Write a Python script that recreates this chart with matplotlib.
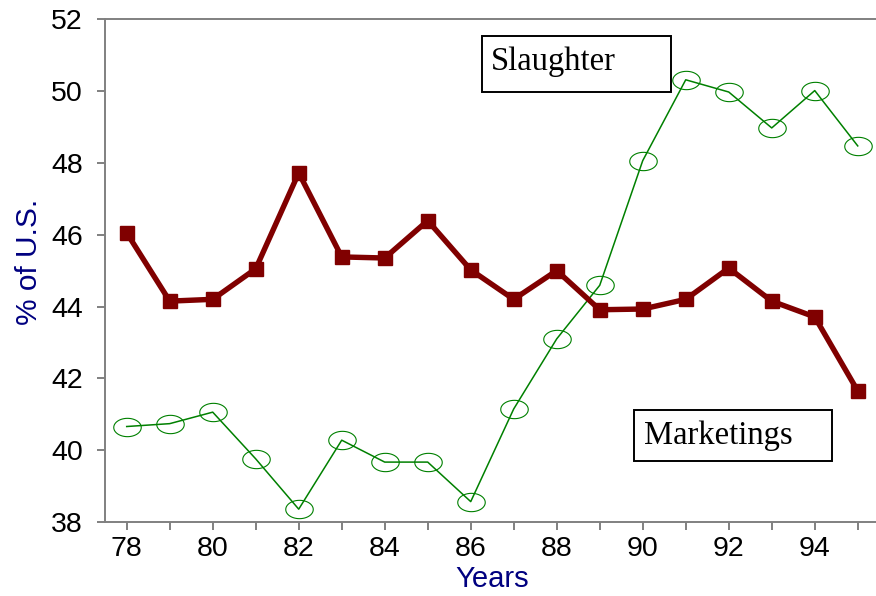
import numpy as np
import matplotlib
matplotlib.use("Agg")
import matplotlib.pyplot as plt
from matplotlib.path import Path
from matplotlib.patches import Rectangle
from matplotlib.ticker import MultipleLocator, FixedLocator

years = [78, 79, 80, 81, 82, 83, 84, 85, 86, 87, 88, 89, 90, 91, 92, 93, 94, 95]
marketings = [46.05, 44.15, 44.2, 45.05, 47.72, 45.38, 45.35, 46.39, 45.02, 44.2,
              45.0, 43.91, 43.93, 44.2, 45.07, 44.15, 43.71, 41.65]
slaughter = [40.66, 40.74, 41.06, 39.76, 38.36, 40.28, 39.67, 39.67, 38.57, 41.15,
             43.1, 44.59, 48.06, 50.31, 49.97, 48.97, 50.01, 48.47]
tick_labels = ["78", "80", "82", "84", "86", "88", "90", "92", "94"]

fig = plt.figure(figsize=(8.76, 5.96), dpi=100)
ax = fig.add_axes([0.1201, 0.124, 0.8836, 0.844])

# elliptical hollow marker
t = np.linspace(0, 2 * np.pi, 60)
ell = Path(np.column_stack([1.5 * np.cos(t), np.sin(t)]), closed=True)

ax.plot(years, slaughter, color="#008000", lw=1.1, marker=ell, markersize=19.8,
        markerfacecolor="none", markeredgecolor="#008000", markeredgewidth=0.8, zorder=3)
ax.plot(years, marketings, color="#800000", lw=3.9, marker="s", markersize=10.5,
        markerfacecolor="#800000", markeredgecolor="#800000", zorder=4)

ax.set_xlim(77.5, 95.5)
ax.set_ylim(38, 52)
ax.xaxis.set_major_locator(FixedLocator([int(v) for v in tick_labels]))
ax.set_xticklabels(tick_labels)
ax.xaxis.set_minor_locator(FixedLocator(years))
ax.yaxis.set_major_locator(MultipleLocator(2))

grey = "#808080"
for s in ["left", "top", "bottom"]:
    ax.spines[s].set_color(grey)
    ax.spines[s].set_linewidth(1.4)
ax.spines["right"].set_visible(False)

ax.tick_params(axis="both", which="both", direction="out", color=grey, width=1.4,
               length=6, labelsize=20.5, labelcolor="black",
               labelfontfamily="Liberation Sans")
ax.tick_params(axis="x", which="major", pad=4)
ax.tick_params(axis="y", which="major", pad=10)

ax.set_ylabel("% of U.S.", color="#000080", fontsize=21.5, family="Liberation Sans")
ax.yaxis.set_label_coords(-0.0801, 0.517)
ax.set_xlabel("Years", color="#000080", fontsize=21, family="Liberation Sans", labelpad=2.5)

for (x0, x1, y0, y1) in [(86.26, 90.65, 49.98, 51.52), (89.79, 94.39, 39.71, 41.13)]:
    ax.add_patch(Rectangle((x0, y0), x1 - x0, y1 - y0, facecolor="white",
                           edgecolor="black", linewidth=1.4, zorder=5))
ax.text(86.48, 50.59, "Slaughter", family="Liberation Serif", fontsize=23.5,
        va="baseline", ha="left", zorder=6)
ax.text(90.02, 40.18, "Marketings", family="Liberation Serif", fontsize=23.5,
        va="baseline", ha="left", zorder=6)

fig.savefig("out.png", dpi=100)
